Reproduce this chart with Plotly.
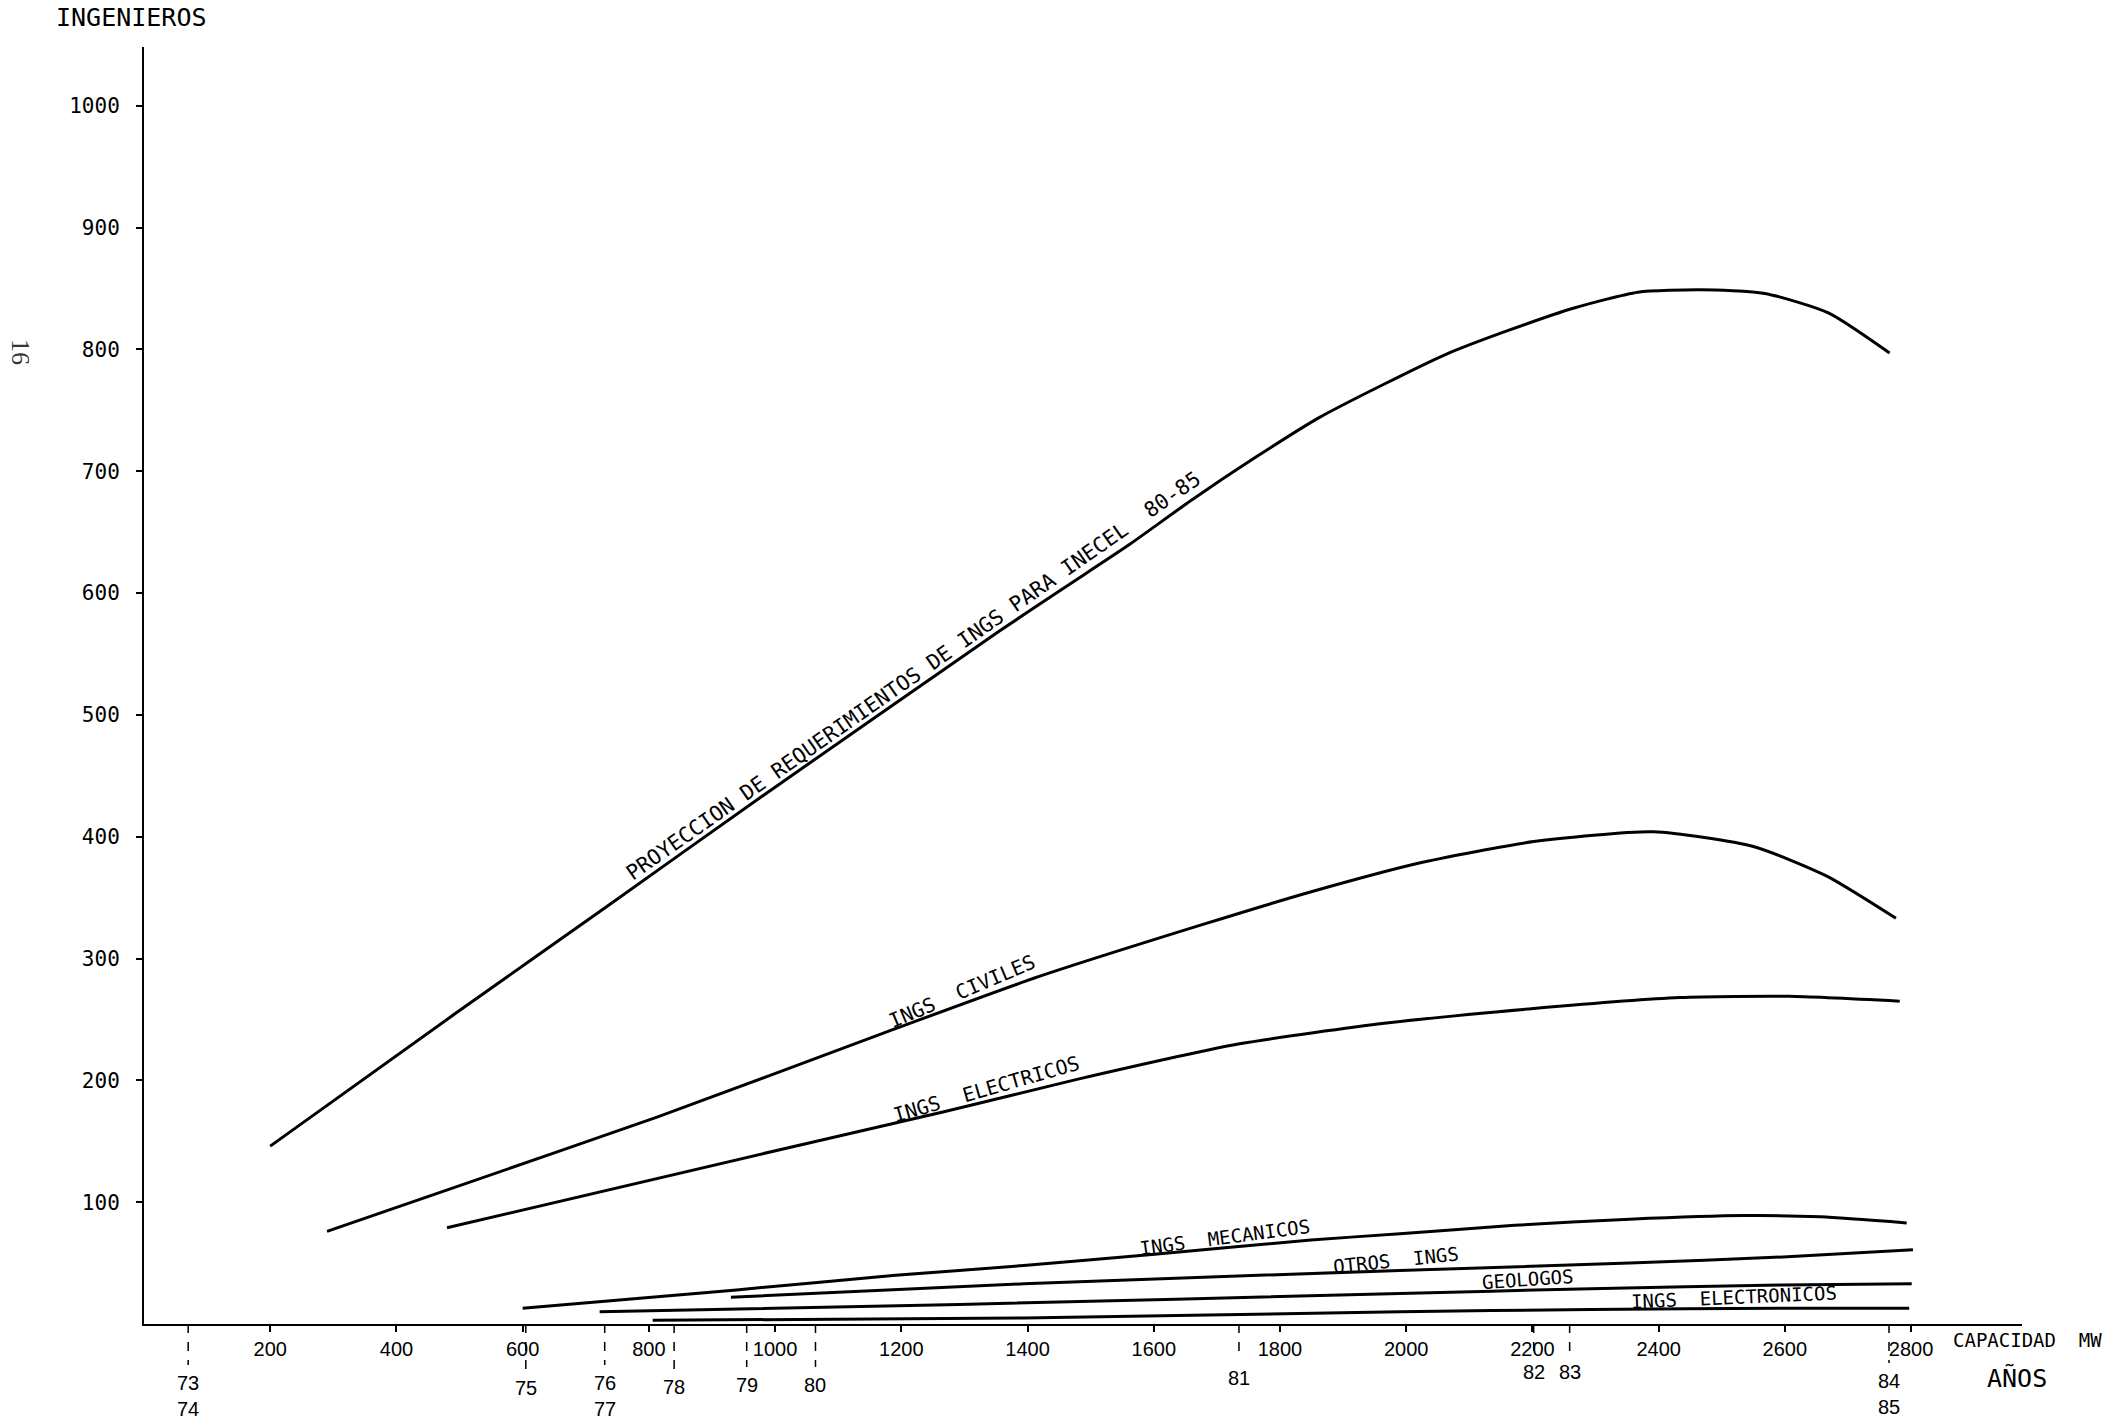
import math
import numpy as np
import plotly.graph_objects as go

# ---------------- data ----------------
# x = capacidad instalada (MW), y = número de ingenieros
proy_x = [200, 491, 734, 976, 1356, 1457, 1559, 1659, 1760, 1862, 1963, 2063, 2164, 2266, 2367, 2467, 2568, 2669, 2766]
proy_y = [146, 254, 343, 432, 569, 604, 639, 676, 711, 744, 771, 796, 816, 834, 847, 849, 846, 830, 797]

civ_x = [290, 491, 814, 1178, 1411, 1678, 1851, 2026, 2202, 2392, 2550, 2665, 2776]
civ_y = [76, 112, 170, 240, 284, 328, 355, 379, 396, 404, 392, 368, 333]

ele_x = [480, 1040, 1266, 1480, 1736, 1969, 2202, 2434, 2607, 2782]
ele_y = [79, 147, 174, 201, 230, 247, 259, 268, 269, 265]

mec_x = [600, 939, 1191, 1394, 1597, 1849, 1990, 2172, 2354, 2535, 2657, 2793]
mec_y = [13, 28, 40, 48, 57, 69, 74, 81, 86, 89, 88, 83]

otr_x = [930, 1394, 1990, 2354, 2597, 2803]
otr_y = [22, 33, 44, 50, 55, 61]

geo_x = [722, 1292, 1990, 2292, 2597, 2801]
geo_y = [10, 16, 25, 29, 32, 33]

elc_x = [806, 1394, 1990, 2292, 2597, 2797]
elc_y = [3, 5, 10, 12, 13, 13]

NB = "\u00a0"
series_names = ["PROYECCION DE REQUERIMIENTOS DE INGS PARA INECEL" + NB + " 80-85",
                "INGS" + NB + " CIVILES", "INGS" + NB + " ELECTRICOS", "INGS" + NB + " MECANICOS",
                "OTROS" + NB + " INGS", "GEOLOGOS", "INGS" + NB + " ELECTRONICOS"]

y_ticks = [100, 200, 300, 400, 500, 600, 700, 800, 900, 1000]
x_ticks = [200, 400, 600, 800, 1000, 1200, 1400, 1600, 1800, 2000, 2200, 2400, 2600, 2800]

# años marcados sobre el eje de capacidad
year_labels = ["73<br>74", "75", "76<br>77", "78", "79", "80", "81", "82", "83", "84<br>85"]
year_capacity = [70, 605, 730, 840, 955, 1064, 1735, 2202, 2259, 2765]

# ---------------- figure ----------------
W, H = 2113, 1426
ML, MR, MT, MB = 144, 91, 47, 102
plot_w = W - ML - MR
plot_h = H - MT - MB
x_max = plot_w / 0.6311
y_max = plot_h / 1.2182
AXIS_PX = H - MB  # pixel row of the x axis

MONO = "DejaVu Sans Mono, Liberation Mono, monospace"
TCK = "Liberation Sans, Arial, sans-serif"

fig = go.Figure()
all_series = [(proy_x, proy_y), (civ_x, civ_y), (ele_x, ele_y), (mec_x, mec_y),
              (otr_x, otr_y), (geo_x, geo_y), (elc_x, elc_y)]
for (xs, ys), name in zip(all_series, series_names):
    fig.add_trace(go.Scatter(
        x=xs, y=ys, mode="lines", name=name,
        line=dict(color="black", width=3, shape="spline", smoothing=0.6),
        showlegend=False, hoverinfo="skip"))

# curve labels: x position along the curve, visual angle, offset from line (px), size
label_at = [(1230, -35, 12, 21), (1305, -23, 12, 20), (1340, -16, 12, 20), (1715, -7.5, 11, 19),
            (1985, -6, 11, 19), (2195, -4, 11, 19), (2520, -2.5, 11, 19)]
annotations = []
for (xs, ys), name, (lx, ang, d, fs) in zip(all_series, series_names, label_at):
    ly = float(np.interp(lx, xs, ys))
    a = math.radians(-ang)
    annotations.append(dict(x=lx, y=ly, xref="x", yref="y", text=name, showarrow=False,
                            textangle=ang, xshift=-d * math.sin(a), yshift=d * math.cos(a),
                            font=dict(family=MONO, size=fs, color="black"),
                            xanchor="center", yanchor="middle"))

# year markers (label centre rows follow the hand lettering of the original)
year_row = [1383, 1388, 1383, 1387, 1385, 1385, 1378, 1372, 1372, 1381]
shapes = []
for yl, cap, row in zip(year_labels, year_capacity, year_row):
    shapes.append(dict(type="line", xref="x", yref="paper", x0=cap, x1=cap,
                       y0=0, y1=-(row - 18 - AXIS_PX) / plot_h,
                       line=dict(color="black", width=1.5, dash="dash")))
    annotations.append(dict(x=cap, y=-(row - 12 - AXIS_PX) / plot_h, xref="x", yref="paper",
                            text=yl, showarrow=False, xanchor="center", yanchor="top",
                            borderpad=0, font=dict(family=TCK, size=20, color="black")))

annotations += [
    dict(x=(1951 - ML) / plot_w, y=-(1340 - AXIS_PX) / plot_h, xref="paper", yref="paper",
         text="CAPACIDAD" + NB + " MW", showarrow=False, xanchor="left", yanchor="middle",
         font=dict(family=MONO, size=19, color="black")),
    dict(x=(2017 - ML) / plot_w, y=-(1378 - AXIS_PX) / plot_h, xref="paper", yref="paper",
         text="AÑOS", showarrow=False, xanchor="center", yanchor="middle",
         font=dict(family=MONO, size=25, color="black")),
    dict(x=(131 - ML) / plot_w, y=(AXIS_PX - 34) / plot_h, xref="paper", yref="paper",
         text="INGENIEROS", showarrow=False, xanchor="center", yanchor="bottom",
         font=dict(family=MONO, size=25, color="black")),
    dict(x=(20 - ML) / plot_w, y=(AXIS_PX - 352) / plot_h, xref="paper", yref="paper",
         text="16", showarrow=False, textangle=90, xanchor="center", yanchor="middle",
         font=dict(family="Liberation Serif, DejaVu Serif, serif", size=26, color="#333")),
]

fig.update_layout(
    width=W, height=H,
    margin=dict(l=ML, r=MR, t=MT, b=MB, pad=0),
    paper_bgcolor="white", plot_bgcolor="white",
    shapes=shapes, annotations=annotations,
    xaxis=dict(range=[0, x_max], tickmode="array", tickvals=x_ticks,
               ticktext=[str(v) for v in x_ticks], showgrid=False, zeroline=False,
               showline=True, linecolor="black", linewidth=2, ticks="outside",
               ticklen=6, tickwidth=2, tickcolor="black",
               tickfont=dict(family=TCK, size=20, color="black")),
    yaxis=dict(range=[0, y_max], tickmode="array", tickvals=y_ticks,
               ticktext=[str(v) for v in y_ticks], showgrid=False, zeroline=False,
               showline=True, linecolor="black", linewidth=2, ticks="outside",
               ticklen=6, tickwidth=2, tickcolor="black", ticklabelstandoff=12,
               tickfont=dict(family=MONO, size=21, color="black")),
)

fig.write_html("out.html", config={"displayModeBar": False},
               post_script="document.body.style.margin='0';document.body.style.overflow='hidden';")
